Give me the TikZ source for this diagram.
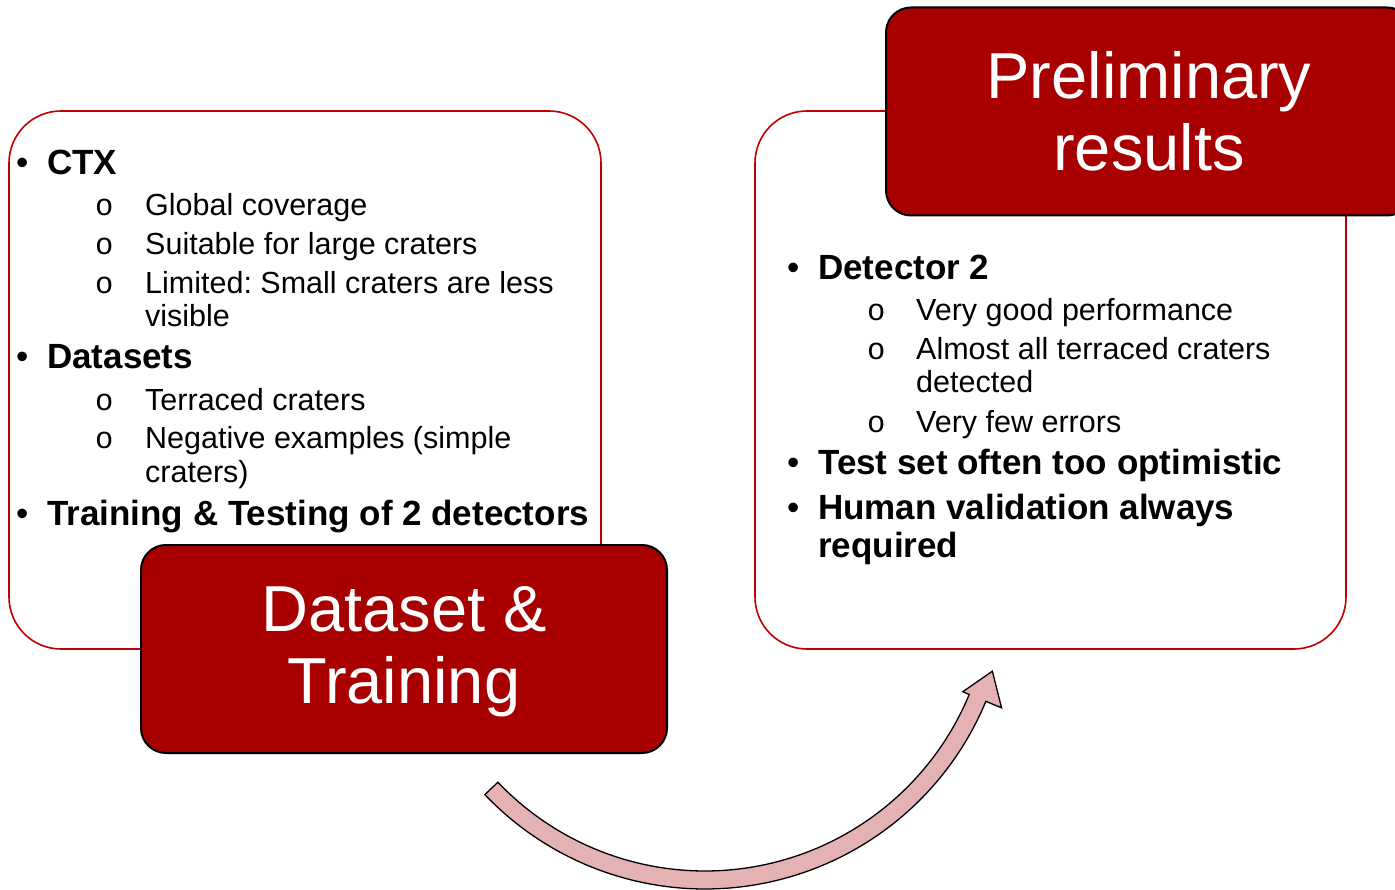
\documentclass[tikz,border=0pt]{standalone}
\usepackage{fontspec}
\setmainfont{Liberation Sans}
\newfontfamily\monofont{Liberation Mono}
\definecolor{boxred}{RGB}{168,0,0}
\definecolor{edgered}{RGB}{192,0,0}
\definecolor{arrowpink}{RGB}{228,178,178}
\frenchspacing
\begin{document}
\begin{tikzpicture}[x=1pt,y=1pt,
  panel/.style={draw=edgered, line width=1.6pt, fill=white, rounded corners=52pt},
  titlebox/.style={draw=black, line width=2pt, fill=boxred, rounded corners=25pt, inner sep=0pt, minimum width=526pt, minimum height=208pt},
  titletext/.style={text=white, font=\fontsize{65}{72}\selectfont, align=center, inner sep=0pt},
  mainitem/.style={anchor=base west, inner sep=0pt, font=\fontsize{35}{40}\selectfont\bfseries},
  subitem/.style={anchor=base west, inner sep=0pt, font=\fontsize{30.5}{36}\selectfont},
  mbul/.style={anchor=base west, inner sep=0pt, font=\fontsize{35}{40}\selectfont},
  sbul/.style={anchor=base west, inner sep=0pt, font=\fontsize{30.5}{36}\monofont},
  bigarrow/.style={draw=black, line width=1.3pt, fill=arrowpink, line join=miter},
]
\clip (0,0) rectangle (1395,-890);
\fill[white] (0,0) rectangle (1395,-890);

% panels
\draw[panel] (9,-111) rectangle (601,-649);
\draw[panel] (755,-111) rectangle (1346,-649);

% title boxes
\node[titlebox] (dbox) at (404,-649) {};
\node[titletext, yshift=-3pt] (dtitle) at (dbox.center) {Dataset \&\\Training};
\node[titlebox] (pbox) at (1149,-111.5) {};
\node[titletext] (ptitle) at (pbox.center) {Preliminary\\results};

% left list
\node[mbul] (lb1) at (16,-175) {•};
\node[mainitem] (l1) at (47,-175) {CTX};
\node[sbul] (lo1) at (95,-216) {o};
\node[subitem] (l11) at (145,-216) {Global coverage};
\node[sbul] (lo2) at (95,-255) {o};
\node[subitem] (l12) at (145,-255) {Suitable for large craters};
\node[sbul] (lo3) at (95,-294) {o};
\node[subitem] (l13) at (145,-294) {Limited: Small craters are less};
\node[subitem] (l13b) at (145,-327) {visible};
\node[mbul] (lb2) at (16,-369) {•};
\node[mainitem] (l2) at (47,-369) {Datasets};
\node[sbul] (lo4) at (95,-410) {o};
\node[subitem] (l21) at (145,-410) {Terraced craters};
\node[sbul] (lo5) at (95,-449) {o};
\node[subitem] (l22) at (145,-449) {Negative examples (simple};
\node[subitem] (l22b) at (145,-482) {craters)};
\node[mbul] (lb3) at (16,-525) {•};
\node[mainitem] (l3) at (47,-525) {Training \& Testing of 2 detectors};

% right list
\node[mbul] (rb1) at (787,-280) {•};
\node[mainitem] (r1) at (818,-280) {Detector 2};
\node[sbul] (ro1) at (867,-321) {o};
\node[subitem] (r11) at (916,-321) {Very good performance};
\node[sbul] (ro2) at (867,-360) {o};
\node[subitem] (r12) at (916,-360) {Almost all terraced craters};
\node[subitem] (r12b) at (916,-392) {detected};
\node[sbul] (ro3) at (867,-432) {o};
\node[subitem] (r13) at (916,-432) {Very few errors};
\node[mbul] (rb2) at (787,-474) {•};
\node[mainitem] (r2) at (818,-474) {Test set often too optimistic};
\node[mbul] (rb3) at (787,-519) {•};
\node[mainitem] (r3) at (818,-519) {Human validation always};
\node[mainitem] (r3b) at (818,-557) {required};

% curved arrow
\begin{scope}[shift={(705,-585)}]
\draw[bigarrow] (223.6:304) arc[start angle=223.6, end angle=337.5, radius=304pt]
  -- (337.5:321) -- (343.3:300) -- (337.5:279) -- (337.5:286)
  arc[start angle=337.5, end angle=223.6, radius=286pt] -- cycle;
\end{scope}
\end{tikzpicture}
\end{document}
